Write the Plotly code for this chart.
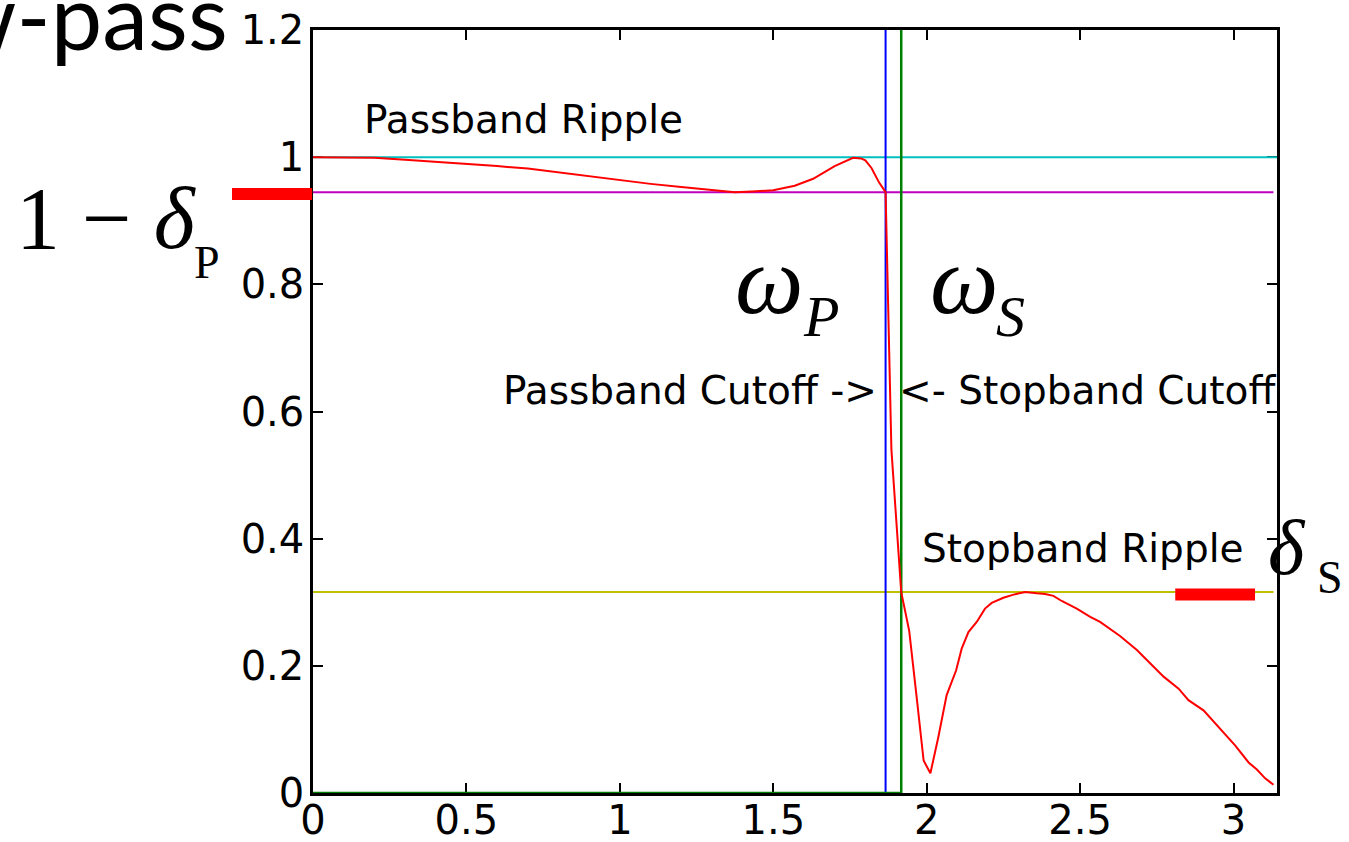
import plotly.graph_objects as go

# ---- data ----
w = [0.0, 0.1, 0.2, 0.3, 0.4, 0.5, 0.6, 0.7, 0.8, 0.9, 1.0, 1.1, 1.2, 1.3, 1.375,
     1.43, 1.5, 1.57, 1.63, 1.70, 1.76, 1.786, 1.80, 1.82, 1.845, 1.866,
     1.885, 1.917, 1.943, 1.967, 1.99, 2.012, 2.038, 2.065, 2.096, 2.114, 2.136,
     2.163, 2.19, 2.212, 2.25, 2.283, 2.321, 2.359, 2.386, 2.413, 2.44, 2.489,
     2.533, 2.565, 2.63, 2.685, 2.728, 2.772, 2.821, 2.853, 2.902, 2.951, 2.978,
     3.005, 3.049, 3.076, 3.103, 3.13]
mag = [1.0, 1.0, 0.999, 0.996, 0.993, 0.990, 0.986, 0.982, 0.976, 0.970, 0.963,
       0.958, 0.953, 0.949, 0.945, 0.946, 0.948, 0.955, 0.966, 0.986, 0.999, 0.998,
       0.995, 0.983, 0.960, 0.945,
       0.54, 0.316, 0.255, 0.152, 0.051, 0.031, 0.088, 0.154, 0.193, 0.227, 0.253,
       0.269, 0.29, 0.299, 0.307, 0.312, 0.316, 0.314, 0.313, 0.31, 0.302, 0.29,
       0.277, 0.269, 0.247, 0.225, 0.204, 0.183, 0.164, 0.146, 0.13, 0.104, 0.088,
       0.075, 0.048, 0.037, 0.023, 0.013]

w_pass = 1.866          # passband cutoff
w_stop = 1.917          # stopband cutoff
ripple_top = 1.0
ripple_low = 0.945      # 1 - delta_p
stop_ripple = 0.316     # delta_s
x_max = 3.1416
line_end = 3.13
y_max = 1.2

x_ticks = [0, 0.5, 1, 1.5, 2, 2.5, 3]
x_ticktext = ["0", "0.5", "1", "1.5", "2", "2.5", "3"]
y_ticks = [0, 0.2, 0.4, 0.6, 0.8, 1.0, 1.2]
y_ticktext = ["0", "0.2", "0.4", "0.6", "0.8", "1", "1.2"]

# red level markers: (x start, x end, y) in data units
mark_left = (-0.264, -0.003, 0.942)
mark_right = (2.81, 3.07, 0.312)

# ---- figure ----
W, H = 1349, 842
L, R, T, B = 313, 72, 30, 49

def px(xp):
    return (xp - L) / (W - L - R)

def py(yp):
    return (H - B - yp) / (H - T - B)

fig = go.Figure()

fig.add_trace(go.Scatter(x=[0, x_max], y=[ripple_top, ripple_top], mode="lines",
                         line=dict(color="#00BFBF", width=2), hoverinfo="skip"))
fig.add_trace(go.Scatter(x=[0, line_end], y=[ripple_low, ripple_low], mode="lines",
                         line=dict(color="#BF00BF", width=2), hoverinfo="skip"))
fig.add_trace(go.Scatter(x=[0, line_end], y=[stop_ripple, stop_ripple], mode="lines",
                         line=dict(color="#BFBF00", width=2), hoverinfo="skip"))
fig.add_trace(go.Scatter(x=[0, w_pass, w_pass], y=[0, 0, y_max], mode="lines",
                         line=dict(color="#0000FF", width=2), hoverinfo="skip"))
fig.add_trace(go.Scatter(x=[0, w_stop, w_stop], y=[0, 0, y_max], mode="lines",
                         line=dict(color="#008000", width=2.5), hoverinfo="skip"))
fig.add_trace(go.Scatter(x=w, y=mag, mode="lines",
                         line=dict(color="#FF0000", width=2), hoverinfo="skip"))

for (xa, xb, yv) in (mark_left, mark_right):
    fig.add_shape(type="line", xref="paper", yref="y",
                  x0=xa / x_max, x1=xb / x_max, y0=yv, y1=yv,
                  line=dict(color="#FF0000", width=12), layer="above")

tick_font = dict(family="DejaVu Sans", size=40, color="black")
axis_common = dict(showline=True, linecolor="black", linewidth=2.5, mirror="ticks",
                   ticks="inside", ticklen=10, tickwidth=2, tickcolor="black",
                   showgrid=False, zeroline=False, tickfont=tick_font,
                   layer="below traces", automargin=False)

fig.update_xaxes(range=[0, x_max], tickvals=x_ticks, ticktext=x_ticktext,
                 ticklabelstandoff=-10, **axis_common)
fig.update_yaxes(range=[0, y_max], tickvals=y_ticks, ticktext=y_ticktext,
                 ticklabelstandoff=-2, **axis_common)

sans = "DejaVu Sans"
serif = "Liberation Serif"
ann = []
def text(s, xp, yp, size, family, xanchor="left", italic=False):
    ann.append(dict(text=s, x=px(xp), y=py(yp), xref="paper", yref="paper",
                    xanchor=xanchor, yanchor="middle", showarrow=False,
                    font=dict(family=family, size=size, color="black",
                              style="italic" if italic else "normal")))

text("Passband Ripple", 362, 119, 39, sans)
text("Passband Cutoff ->", 879, 391, 39, sans, xanchor="right")
text("<- Stopband Cutoff", 897, 391, 39, sans)
text("Stopband Ripple", 920, 548, 39, sans)

text("1 − <i>δ</i>", 14, 218, 88, serif)
text("P", 192, 262, 46, serif)
text("ω", 733, 280, 97, serif, italic=True)
text("P", 801, 316, 58, serif, italic=True)
text("ω", 928, 280, 97, serif, italic=True)
text("S", 994, 316, 58, serif, italic=True)
text("δ", 1266, 547, 78, serif, italic=True)
text("S", 1315, 577, 46, serif)

text("Low-pass", 230, 14, 92, "Comic Sans MS, Lato", xanchor="right")

fig.update_layout(width=W, height=H, margin=dict(l=L, r=R, t=T, b=B),
                  paper_bgcolor="white", plot_bgcolor="white", showlegend=False,
                  annotations=ann)

fig.write_html("out.html", config={"displayModeBar": False},
               post_script="document.body.style.margin='0';document.body.style.padding='0';")
